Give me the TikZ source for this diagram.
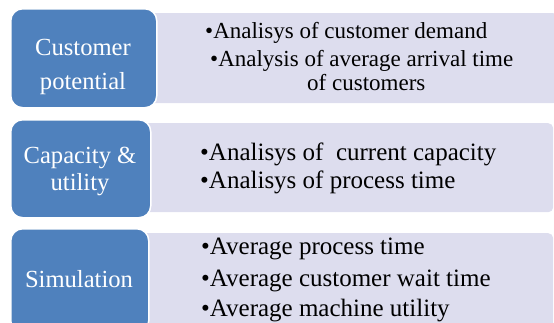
\documentclass[tikz,border=0pt]{standalone}
\usepackage{fontspec}
\setmainfont{Liberation Serif}
\definecolor{stageblue}{RGB}{79,129,189}
\definecolor{listbg}{RGB}{221,221,238}
\begin{document}
\begin{tikzpicture}[x=1pt,y=-1pt,
  stage/.style={fill=stageblue, draw=white, line width=1.5pt, rounded corners=12pt,
    anchor=north west, inner sep=0pt},
  listbox/.style={fill=listbg, rounded corners=5pt, anchor=north west, inner sep=0pt},
  stagetext/.style={text=white, anchor=base, inner sep=0pt, font=\fontsize{24.6}{30}\selectfont},
  item/.style={anchor=base west, inner sep=0pt, font=\fontsize{25}{30}\selectfont},
  itemsmall/.style={item, font=\fontsize{23}{28}\selectfont}]
\path[use as bounding box] (0,0) rectangle (554,322);
\clip (0,0) rectangle (554,322);

% list panels behind the stage boxes
\node[listbox, minimum width=418pt, minimum height=90pt] (l1) at (140,13) {};
\node[listbox, minimum width=413pt, minimum height=89pt] (l2) at (140,123) {};
\node[listbox, minimum width=413pt, minimum height=100pt] (l3) at (140,233) {};

% stage boxes
\node[stage, minimum width=146pt, minimum height=99pt] (c1) at (10,8) {};
\node[stage, minimum width=140pt, minimum height=98pt] (c2) at (10,119) {};
\node[stage, minimum width=138pt, minimum height=104pt] (c3) at (10,228) {};

% stage titles
\node[stagetext] (t1a) at (83,55) {Customer};
\node[stagetext] (t1b) at (83,89) {potential};
\node[stagetext] (t2a) at (80,163) {Capacity \&};
\node[stagetext] (t2b) at (80,190) {utility};
\node[stagetext] (t3a) at (79,287) {Simulation};

% bullet items
\node[itemsmall] (i1a) at (205,38) {•Analisys of customer demand};
\node[itemsmall] (i1b) at (210,66) {•Analysis of average arrival time};
\node[itemsmall] (i1c) at (307,90) {of customers};
\node[item] (i2a) at (200,160) {•Analisys of\ \ current capacity};
\node[item] (i2b) at (200,188) {•Analisys of process time};
\node[item] (i3a) at (201,254) {•Average process time};
\node[item] (i3b) at (201,286) {•Average customer wait time};
\node[item] (i3c) at (201,316) {•Average machine utility};
\end{tikzpicture}
\end{document}
